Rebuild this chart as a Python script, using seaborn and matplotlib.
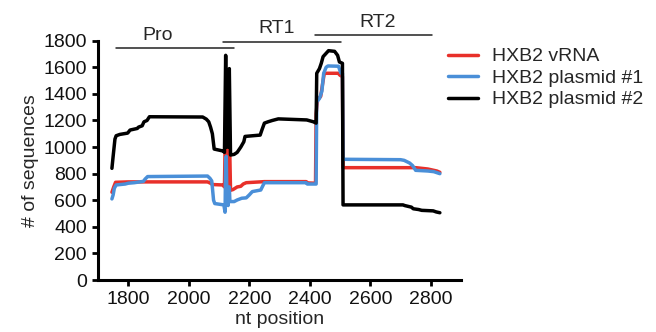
import pandas as pd
import numpy as np
import matplotlib
matplotlib.use('Agg')
import matplotlib.pyplot as plt
import seaborn as sns

# values
rna_nt = [1746, 1752, 1758, 1800, 2062, 2070, 2076, 2080, 2112, 2118, 2122, 2126, 2130, 2134, 2138,
          2146, 2160, 2172, 2180, 2190, 2250, 2388, 2394, 2419, 2421, 2426, 2436, 2442, 2448, 2494,
          2500, 2508, 2510, 2750, 2790, 2820, 2830]
rna_n = [660, 700, 735, 738, 738, 730, 722, 718, 715, 700, 1280, 700, 690, 1150, 675,
         680, 700, 705, 722, 732, 740, 740, 730, 728, 1250, 1360, 1380, 1470, 1555, 1555,
         1540, 1530, 845, 845, 835, 820, 810]

p1_nt = [1746, 1750, 1754, 1760, 1790, 1800, 1820, 1850, 1856, 1864, 2062, 2070, 2076, 2082, 2086,
         2116, 2120, 2122, 2124, 2126, 2130, 2134, 2136, 2150, 2160, 2175, 2190, 2200, 2210, 2238,
         2244, 2250, 2388, 2392, 2421, 2423, 2432, 2440, 2446, 2454, 2460, 2495, 2502, 2508, 2510,
         2700, 2712, 2730, 2740, 2750, 2790, 2810, 2830]
p1_n = [610, 640, 690, 715, 722, 728, 732, 742, 760, 778, 782, 765, 745, 600, 575,
        565, 510, 900, 930, 600, 560, 700, 590, 590, 602, 615, 618, 640, 665, 677,
        705, 732, 732, 722, 722, 1340, 1365, 1420, 1555, 1600, 1610, 1608, 1560, 1555, 908,
        905, 900, 880, 860, 825, 820, 815, 800]

p2_nt = [1746, 1750, 1756, 1760, 1772, 1798, 1806, 1830, 1834, 1846, 1852, 1862, 1870, 2046, 2058,
         2066, 2072, 2078, 2084, 2114, 2118, 2122, 2125, 2131, 2134, 2138, 2150, 2160, 2172, 2182,
         2186, 2236, 2242, 2250, 2262, 2276, 2296, 2390, 2412, 2421, 2423, 2432, 2438, 2444, 2452,
         2462, 2482, 2492, 2498, 2508, 2510, 2708, 2714, 2736, 2742, 2760, 2770, 2808, 2818, 2830]
p2_n = [840, 930, 1060, 1085, 1095, 1105, 1128, 1140, 1150, 1160, 1190, 1200, 1228, 1226, 1210,
        1190, 1150, 1100, 985, 970, 960, 1690, 1000, 1000, 1590, 940, 945, 960, 1000, 1040,
        1080, 1090, 1130, 1180, 1190, 1200, 1212, 1204, 1190, 1180, 1555, 1590, 1630, 1680, 1700,
        1725, 1720, 1690, 1640, 1630, 565, 565, 560, 548, 536, 530, 524, 520, 512, 506]

labels = ['HXB2 vRNA', 'HXB2 plasmid #1', 'HXB2 plasmid #2']
colors = ['#e8302a', '#4a8fd8', '#000000']

# regions drawn above the plot: name, start, end, bar height, label x
regions = ['Pro', 'RT1', 'RT2']
reg_start = [1758, 2112, 2416]
reg_end = [2148, 2504, 2805]
reg_y = [1743, 1793, 1843]
reg_text_x = [1896, 2291, 2623]

df = pd.concat([
    pd.DataFrame({'nt': rna_nt, 'n': rna_n, 'sample': labels[0]}),
    pd.DataFrame({'nt': p1_nt, 'n': p1_n, 'sample': labels[1]}),
    pd.DataFrame({'nt': p2_nt, 'n': p2_n, 'sample': labels[2]}),
])

sns.set_style('ticks')
plt.rcParams['font.family'] = ['Liberation Sans', 'DejaVu Sans']

fig = plt.figure(figsize=(6.56, 3.32), dpi=100)
ax = fig.add_axes([0.1494, 0.1566, 0.5534, 0.7208])

sns.lineplot(data=df, x='nt', y='n', hue='sample', hue_order=labels,
             palette=dict(zip(labels, colors)), estimator=None, sort=False,
             linewidth=2.5, ax=ax)

ax.set_xlim(1700, 2900)
ax.set_ylim(0, 1800)
ax.set_xticks(np.arange(1800, 2801, 200))
ax.set_yticks(np.arange(0, 1801, 200))
ax.tick_params(labelsize=14, length=4.5, width=2, color='black', labelcolor='#111111')
for side in ['left', 'bottom']:
    ax.spines[side].set_linewidth(2.2)
    ax.spines[side].set_color('black')
sns.despine(ax=ax)

ax.set_xlabel('nt position', fontsize=14, labelpad=2)
ax.set_ylabel('# of sequences', fontsize=14, labelpad=3)

# region bars and names
for name, s, e, y, tx in zip(regions, reg_start, reg_end, reg_y, reg_text_x):
    ax.plot([s, e], [y, y], color='#222222', lw=1.1, clip_on=False)
    ax.text(tx, y + 63, name, fontsize=14, ha='center', va='baseline', clip_on=False)

handles, labs = ax.get_legend_handles_labels()
ax.legend(handles, labs, loc='center left', bbox_to_anchor=(0.683, 0.765),
          bbox_transform=fig.transFigure, frameon=False, fontsize=14,
          handlelength=1.55, handletextpad=0.7, labelspacing=0.2,
          borderpad=0, borderaxespad=0)

fig.savefig('out.png', dpi=100)
